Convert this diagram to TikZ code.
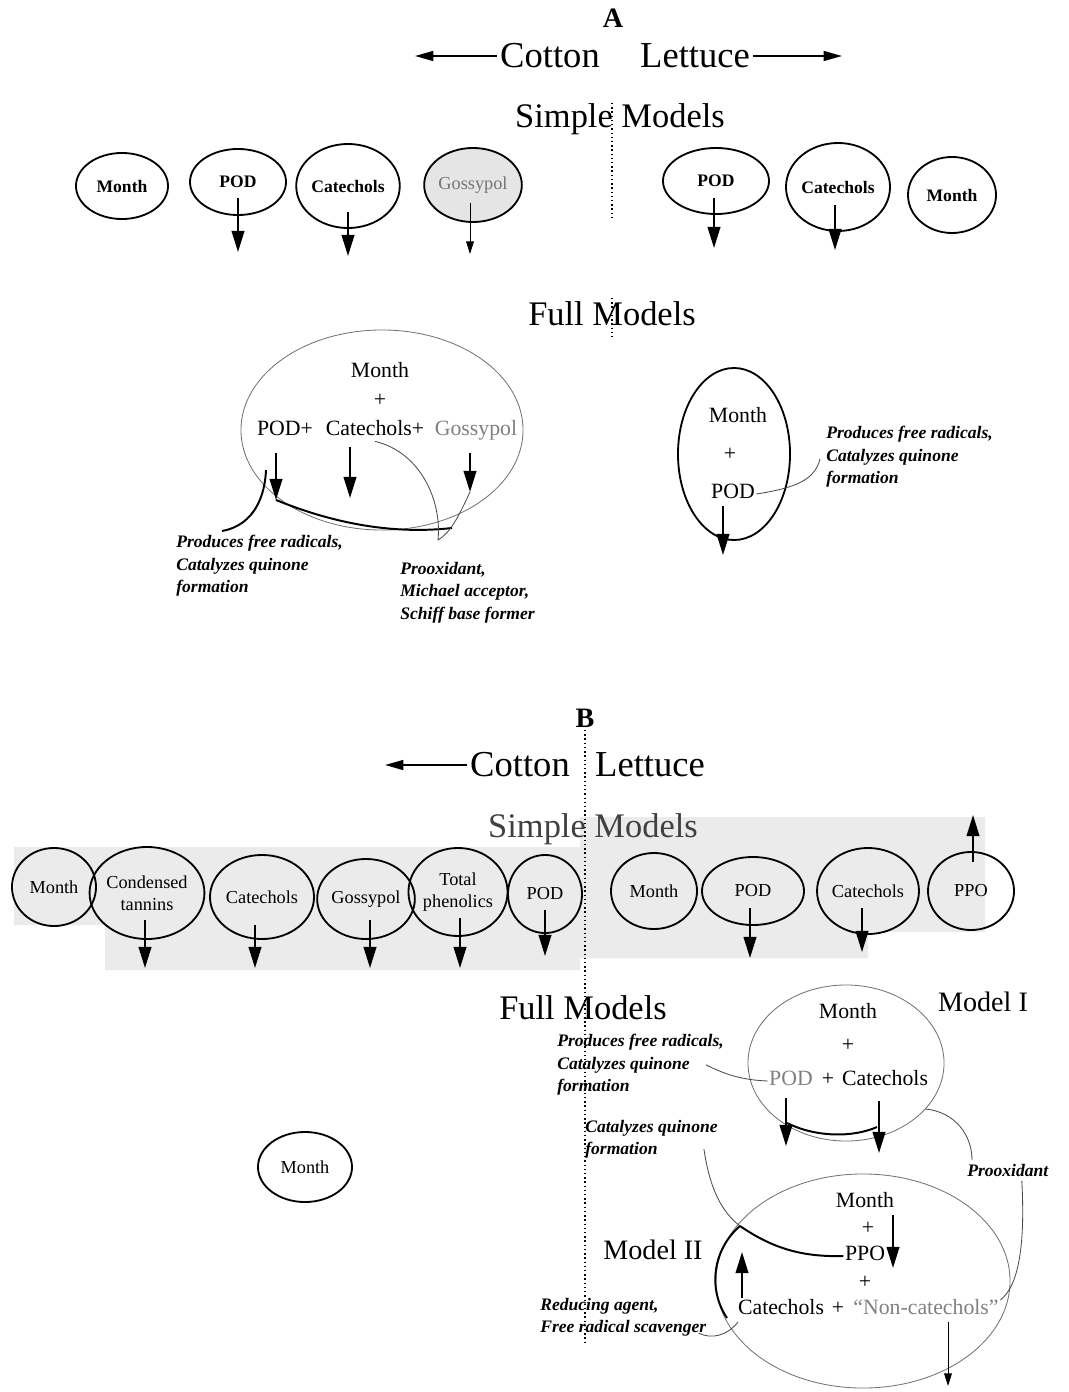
\documentclass[tikz,border=0pt]{standalone}
\usepackage{fontspec}
\setmainfont{Liberation Serif}
\usetikzlibrary{shapes.geometric,arrows.meta,calc}

\begin{document}
\begin{tikzpicture}[x=0.025cm, y=-0.025cm,
  oval/.style 2 args={ellipse, draw, line width=1.3pt, inner sep=0pt, minimum width=#1*0.05cm, minimum height=#2*0.05cm, font=\fontsize{13}{16}\selectfont, align=center},
  heavy/.style={font=\bfseries\fontsize{12.5}{15}\selectfont},
  bigoval/.style 2 args={ellipse, draw=black!55, line width=0.6pt, inner sep=0pt, minimum width=#1*0.05cm, minimum height=#2*0.05cm},
  side/.style={font=\fontsize{26}{28}\selectfont, inner sep=2pt},
  title/.style={font=\fontsize{24.5}{26}\selectfont},
  model/.style={font=\fontsize{20}{22}\selectfont},
  letter/.style={font=\bfseries\fontsize{20}{22}\selectfont},
  term/.style={font=\fontsize{15.5}{17}\selectfont, inner sep=1pt, text height=1.45ex, text depth=0pt},
  note/.style={font=\bfseries\itshape\fontsize{12.5}{16}\selectfont, align=left, anchor=north west, inner sep=0pt},
  eff/.style={line width=1.4pt, -{Triangle[length=15pt,width=9pt]}},
  weak/.style={line width=0.7pt, -{Triangle[length=9pt,width=5.5pt]}},
  dirarr/.style={line width=1.3pt, -{Triangle[length=13pt,width=7pt]}},
  link/.style={line width=1.4pt},
  thinlink/.style={line width=0.6pt, black!70},
  divider/.style={dotted, line width=1pt},
  faded/.style={text=black!50}]
\useasboundingbox (0,0) rectangle (1068,1392);

% A
\node[letter] (hA) at (613,18) {A};
\node[side] (cotA) at (550,56) {Cotton};
\node[side] (letA) at (695,56) {Lettuce};
\coordinate (cotAe) at (415,56);
\coordinate (letAe) at (842,56);
\draw[dirarr] (cotA.west) -- (cotAe);
\draw[dirarr] (letA.east) -- (letAe);

\node[title] (simA) at (620,119) {Simple Models};
\draw[divider] (612,103) -- (612,218);

\node[oval={46}{33}, heavy] (monA) at (122,186) {Month};
\node[oval={48}{33}, heavy] (podA) at (238,182) {POD};
\node[oval={46}{42}, heavy] (catA) at (348,186) {Catechols};
\node[oval={42}{37}, fill=black!10, text=black!55] (gosA) at (473,185) {Gossypol};
\coordinate (podAe) at (238,252);
\coordinate (catAe) at (348,256);
\coordinate (gosAe) at (470,254);
\draw[eff] ($(podA)+(0,16)$) -- (podAe);
\draw[eff] ($(catA)+(0,26)$) -- (catAe);
\draw[weak] ($(gosA)+(-3,18)$) -- (gosAe);

\node[oval={53}{33}, heavy] (podL) at (716,181) {POD};
\node[oval={52}{44}, heavy] (catL) at (838,187) {Catechols};
\node[oval={44}{38}, heavy] (monL) at (952,195) {Month};
\coordinate (podLe) at (714,248);
\coordinate (catLe) at (835,250);
\draw[eff] ($(podL)+(-2,17)$) -- (podLe);
\draw[eff] ($(catL)+(-3,18)$) -- (catLe);

\node[title] (fulA) at (612,314) {Full Models};
\draw[divider] (612,298) -- (612,336);

\node[bigoval={141}{100}] (ovA) at (382,430) {};
\node[term] (fAmon) at (380,373) {Month};
\node[term] (fAplus) at (380,402) {+};
\node[term] (fApod) at (285,431) {POD+};
\node[term] (fAcat) at (375,431) {Catechols+};
\node[term, faded] (fAgos) at (476,431) {Gossypol};
\coordinate (fApodE) at (276,500);
\coordinate (fAcatE) at (350,498);
\coordinate (fAgosE) at (470,492);
\coordinate (fAbot) at (452,528);
\draw[eff] ($(fApod)+(-9,22)$) -- (fApodE);
\draw[eff] ($(fAcat)+(-25,16)$) -- (fAcatE);
\draw[eff] ($(fAgos)+(-6,22)$) -- (fAgosE);

\node[note] (fAprod) at (176,535) {Produces free radicals,\\Catalyzes quinone\\formation};
\node[note] (fAprox) at (400,562) {Prooxidant,\\Michael acceptor,\\Schiff base former};
\draw[link] ($(fAprod.north west)+(46,-4)$) .. controls (255,525) and (265,495) .. ($(fApod)+(-19,39)$);
\draw[link] (fApodE) .. controls (330,522) and (390,535) .. (fAbot);
\draw[thinlink] ($(fAcat.south)+(0,4)$) .. controls (420,452) and (442,500) .. (438,540) .. controls (450,533) and (458,518) .. (fAgosE);

\node[oval={56}{86}] (ovL) at (734,454) {};
\node[term] (fLmon) at (738,418) {Month};
\node[term] (fLplus) at (730,456) {+};
\node[term] (fLpod) at (733,494) {POD};
\coordinate (fLpodE) at (723,555);
\draw[eff] ($(fLpod)+(-10,12)$) -- (fLpodE);
\node[note] (fLprod) at (826,426) {Produces free radicals,\\Catalyzes quinone\\formation};
\draw[thinlink] (fLpod.east) .. controls (795,488) and (815,480) .. ($(fLprod.west)+(-6,2)$);

% B
\fill[black!8] (14,847) -- (580,847) -- (580,817) -- (985,817) -- (985,932) -- (868,932) -- (868,958) -- (580,958) -- (580,970) -- (105,970) -- (105,925) -- (14,925) -- cycle;
\node[letter] (hB) at (585,718) {B};
\draw[divider] (585,730) -- (585,1345);
\node[side] (cotB) at (520,765) {Cotton};
\node[side] (letB) at (650,765) {Lettuce};
\coordinate (cotBe) at (385,765);
\draw[dirarr] (cotB.west) -- (cotBe);

\node[title, text=black!75] (simB) at (593,829) {Simple Models};

\node[oval={42}{39}] (monB) at (54,887) {Month};
\node[oval={52}{46}] (tanB) at (147,893) {Condensed\\tannins};
\node[oval={52}{42}] (catB) at (262,897) {Catechols};
\node[oval={46}{40}] (gosB) at (366,899) {Gossypol};
\node[oval={48}{44}] (phenB) at (458,892) {Total\\phenolics};
\node[oval={37}{39}] (podB) at (545,894) {POD};
\node[oval={43}{38}] (monBL) at (654,891) {Month};
\node[oval={51}{34}] (podBL) at (753,891) {POD};
\node[oval={50}{43}] (catBL) at (868,891) {Catechols};
\node[oval={43}{39}] (ppoBL) at (971,891) {PPO};
\coordinate (tanBe) at (145,968);
\coordinate (catBe) at (255,968);
\coordinate (gosBe) at (370,968);
\coordinate (phenBe) at (460,968);
\coordinate (podBe) at (545,956);
\coordinate (podBLe) at (750,958);
\coordinate (catBLe) at (862,952);
\coordinate (ppoBLe) at (973,815);
\draw[eff] ($(tanB)+(-2,27)$) -- (tanBe);
\draw[eff] ($(catB)+(-7,28)$) -- (catBe);
\draw[eff] ($(gosB)+(4,21)$) -- (gosBe);
\draw[eff] ($(phenB)+(2,26)$) -- (phenBe);
\draw[eff] ($(podB)+(0,16)$) -- (podBe);
\draw[eff] ($(podBL)+(-3,17)$) -- (podBLe);
\draw[eff] ($(catBL)+(-6,17)$) -- (catBLe);
\draw[eff] ($(ppoBL)+(2,-29)$) -- (ppoBLe);

\node[title] (fulB) at (583,1008) {Full Models};
\node[model] (m1lab) at (983,1002) {Model I};
\node[bigoval={98}{78}] (ovM1) at (846,1063) {};
\node[term] (m1mon) at (848,1014) {Month};
\node[term] (m1plus) at (848,1047) {+};
\node[term, faded] (m1pod) at (791,1081) {POD};
\node[term] (m1plus2) at (828,1081) {+};
\node[term] (m1cat) at (885,1081) {Catechols};
\coordinate (m1podE) at (786,1146);
\coordinate (m1catE) at (879,1153);
\draw[eff] ($(m1pod)+(-5,17)$) -- (m1podE);
\draw[eff] ($(m1cat)+(-6,20)$) -- (m1catE);
\draw[link] ($(m1pod)+(-4,42)$) .. controls (815,1137) and (852,1138) .. ($(m1cat)+(-8,46)$);
\node[note] (m1prod) at (557,1034) {Produces free radicals,\\Catalyzes quinone\\formation};
\draw[thinlink] ($(m1prod.east)+(-18,0)$) .. controls (728,1076) and (745,1080) .. (m1pod.west);
\node[note] (proxB) at (967,1164) {Prooxidant};
\draw[thinlink] (ovM1.-30) .. controls (955,1112) and (972,1135) .. ($(proxB.north west)+(5,-4)$);
\node[note] (m2cat) at (585,1120) {Catalyzes quinone\\formation};

\node[bigoval={147}{107}] (ovM2) at (863,1281) {};
\node[model] (m2lab) at (653,1250) {Model II};
\node[term] (m2mon) at (865,1203) {Month};
\node[term] (m2plus) at (868,1230) {+};
\node[term] (m2ppo) at (865,1256) {PPO};
\node[term] (m2plus2) at (865,1284) {+};
\node[term] (m2cath) at (781,1310) {Catechols};
\node[term] (m2plus3) at (838,1310) {+};
\node[term, faded] (m2non) at (926,1310) {``Non-catechols''};
\coordinate (m2ppoE) at (893,1268);
\coordinate (m2upE) at (742,1252);
\coordinate (m2nonE) at (948,1386);
\coordinate (m2bend) at (740,1226);
\coordinate (m2arc) at (727,1318);
\draw[eff] ($(m2mon)+(28,12)$) -- (m2ppoE);
\draw[eff] ($(m2cath)+(-39,-12)$) -- (m2upE);
\draw[weak] ($(m2non)+(22,12)$) -- (m2nonE);
\draw[thinlink] ($(m2cat.south east)+(-14,-10)$) .. controls (710,1190) and (722,1212) .. (m2bend);
\draw[link] (m2bend) .. controls (775,1250) and (805,1257) .. (m2ppo.west);
\node[note] (m2red) at (540,1298) {Reducing agent,\\Free radical scavenger};
\draw[thinlink] ($(m2red.south east)+(-8,-4)$) .. controls (712,1340) and (728,1335) .. (738,1322);
\draw[link] (m2arc) .. controls (708,1290) and (712,1250) .. (m2bend);
\draw[thinlink] ($(proxB.south)+(14,4)$) .. controls (1025,1240) and (1020,1285) .. ($(m2non.east)+(0,-10)$);

\node[oval={47}{35}] (monB2) at (305,1167) {Month};
\end{tikzpicture}
\end{document}
